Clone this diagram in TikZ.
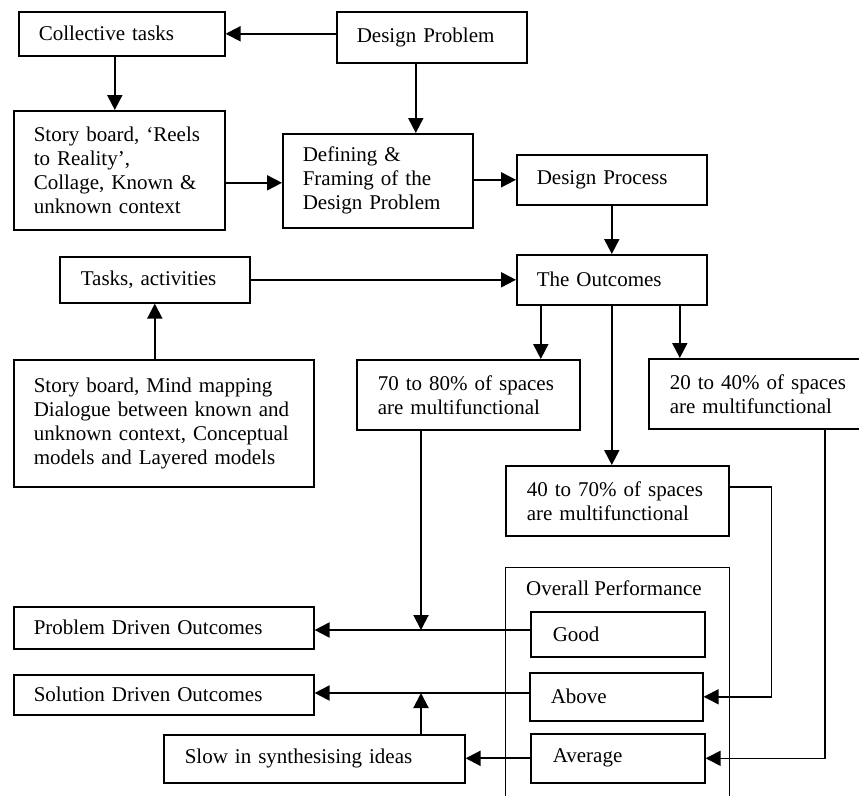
\documentclass[tikz,border=0pt]{standalone}
\usepackage{fontspec}
\setmainfont{Liberation Serif}
\usetikzlibrary{arrows.meta,calc}
\tikzset{
  box/.style={draw, line width=1.6pt, inner xsep=20pt, inner ysep=0pt, align=left,
    anchor=north west, font=\fontsize{21}{24}\selectfont},
  frame/.style={draw, line width=1.3pt, anchor=north west, inner sep=0pt},
  lbl/.style={anchor=north west, inner sep=0pt, font=\fontsize{21}{24}\selectfont},
  arr/.style={line width=2pt, -{Triangle[length=15pt,width=15pt]}},
  thinarr/.style={line width=1.6pt, -{Triangle[length=15pt,width=15pt]}},
  ln/.style={line width=2pt}
}
\begin{document}
\begin{tikzpicture}[x=1pt,y=-1pt]
\useasboundingbox[fill=white] (0,0) rectangle (859,795);
% boxes
\node[box, text width=166pt, minimum height=44pt] (ct) at (18,11) {Collective tasks};
\node[box, text width=150pt, minimum height=51pt] (dp) at (336,11) {Design Problem};
\node[box, text width=171pt, minimum height=119pt] (sb1) at (13,110) {Story board, `Reels\\to Reality',\\Collage, Known \&\\unknown context};
\node[box, text width=150pt, minimum height=94pt] (df) at (282,133) {Defining \&\\Framing of the\\Design Problem};
\node[box, text width=150pt, minimum height=50pt] (dpr) at (516,154) {Design Process};
\node[box, text width=150pt, minimum height=50pt] (oc) at (516,254) {The Outcomes};
\node[box, text width=148pt, minimum height=46pt, inner xsep=21pt] (ta) at (59,256) {Tasks, activities};
\node[box, text width=260pt, minimum height=127pt] (sb2) at (13,359) {Story board, Mind mapping\\Dialogue between known and\\unknown context, Conceptual\\models and Layered models};
\node[box, text width=181pt, minimum height=70pt, inner xsep=21pt] (p78) at (356,359) {70 to 80\% of spaces\\are multifunctional};
\node[box, text width=178pt, minimum height=70pt, inner xsep=21pt] (p24) at (648,358) {20 to 40\% of spaces\\are multifunctional};
\node[box, text width=181pt, minimum height=70pt, inner xsep=21pt] (p47) at (505,465) {40 to 70\% of spaces\\are multifunctional};
\node[frame, minimum width=224pt, minimum height=260pt] (op) at (505,567) {};
\node[lbl] (opt) at (526,581) {Overall Performance};
\node[box, text width=130pt, minimum height=45pt, inner xsep=22pt] (gd) at (530,611) {Good};
\node[box, text width=131pt, minimum height=48pt, inner xsep=21pt] (ab) at (529,672) {Above};
\node[box, text width=130pt, minimum height=49pt, inner xsep=22pt] (av) at (530,733) {Average};
\node[box, text width=260pt, minimum height=42pt] (pdo) at (13,606) {Problem Driven Outcomes};
\node[box, text width=260pt, minimum height=40pt] (sdo) at (13,674) {Solution Driven Outcomes};
\node[box, text width=259pt, minimum height=48pt, inner xsep=21pt] (sl) at (163,734) {Slow in synthesising ideas};
% junctions
\coordinate (j1) at (421,630);
\coordinate (j2) at (421,693);
% connectors
\draw[arr] (dp.west |- ct.east) -- (ct.east);
\draw[arr] ([xshift=-7pt]ct.south) -- ([xshift=-7pt]ct.south |- sb1.north);
\draw[arr] ([xshift=-16pt]dp.south) -- ([xshift=-16pt]dp.south |- df.north);
\draw[arr] ([yshift=-2pt]sb1.east |- df.west) -- ([yshift=-2pt]df.west);
\draw[arr] (df.east |- dpr.west) -- (dpr.west);
\draw[arr] (dpr.south) -- (oc.north);
\draw[arr] (ta.east) -- (ta.east -| oc.west);
\draw[arr] (sb2.north -| ta.south) -- (ta.south);
\draw[arr] ([xshift=-71pt]oc.south) -- ([xshift=-71pt]oc.south |- p78.north);
\draw[arr] ([xshift=68pt]oc.south) -- ([xshift=68pt]oc.south |- p24.north);
\draw[arr] (oc.south) -- (oc.south |- p47.north);
\draw[arr] (p78.south -| j1) -- (j1);
\draw[arr] (gd.west |- j1) -- (pdo.east |- j1);
\draw[arr] (ab.west |- j2) -- (sdo.east |- j2);
\draw[arr] (sl.north -| j2) -- (j2);
\draw[arr] (av.west) -- (sl.east |- av.west);
\draw[thinarr] ([yshift=14pt]p47.east) -- ++(42,0) |- (ab.east);
\draw[thinarr] ([xshift=66pt]p24.south) |- (av.east);
\end{tikzpicture}
\end{document}
